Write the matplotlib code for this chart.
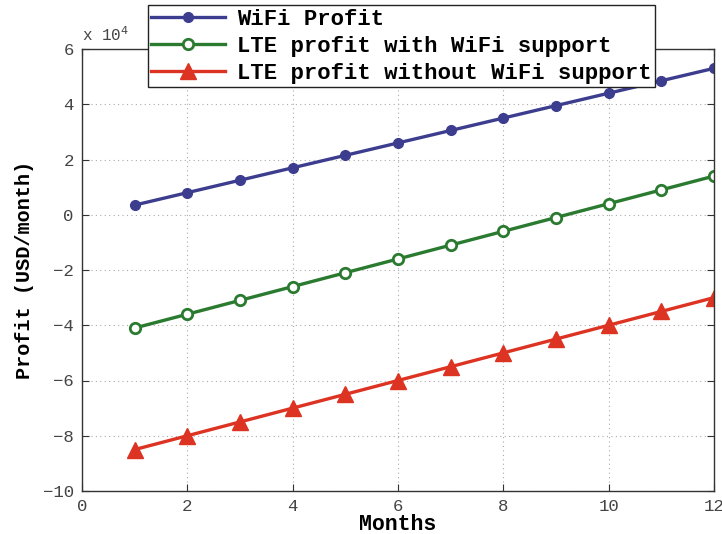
import numpy as np
import matplotlib.pyplot as plt

# Datos (USD/mes)
months = [1, 2, 3, 4, 5, 6, 7, 8, 9, 10, 11, 12]
wifi_profit = [3500, 8000, 12500, 17000, 21500, 26000, 30500, 35000, 39500, 44000, 48500, 53000]
lte_with_wifi = [-41000, -36000, -31000, -26000, -21000, -16000, -11000, -6000, -1000, 4000, 9000, 14000]
lte_without_wifi = [-85000, -80000, -75000, -70000, -65000, -60000, -55000, -50000, -45000, -40000, -35000, -30000]

labels = ["WiFi Profit", "LTE profit with WiFi support", "LTE profit without WiFi support"]
scale = 1e4

mono = "Liberation Mono"

fig = plt.figure(figsize=(7.22, 5.34), dpi=100)
ax = fig.add_axes([82 / 722, 1 - 491 / 534, (714 - 82) / 722, (491 - 49) / 534])

ax.plot(months, np.array(wifi_profit) / scale, color="#3d3d8f", lw=2.4,
        marker="o", ms=7, mfc="#3d3d8f", mec="#3d3d8f", label=labels[0])
ax.plot(months, np.array(lte_with_wifi) / scale, color="#2a7a30", lw=2.4,
        marker="o", ms=7.5, mfc="white", mec="#2a7a30", mew=2, label=labels[1])
ax.plot(months, np.array(lte_without_wifi) / scale, color="#dd3322", lw=2.4,
        marker="^", ms=11, mfc="#dd3322", mec="#dd3322", label=labels[2])

ax.set_xlim(0, 12)
ax.set_ylim(-10, 6)
ax.set_xticks(range(0, 13, 2))
ax.set_yticks(range(-10, 7, 2))
ax.grid(True, linestyle=(0, (1, 3)), color="#aaaaaa", lw=0.8)
ax.tick_params(direction="in", top=True, right=True, length=5, color="#333333",
               labelsize=12.5, labelcolor="#444444", pad=6)
for lab in ax.get_xticklabels() + ax.get_yticklabels():
    lab.set_family(mono)
for s in ax.spines.values():
    s.set_color("#333333")
    s.set_linewidth(1.0)

ax.set_xlabel("Months", family=mono, fontweight="bold", fontsize=15.5, labelpad=0)
ax.set_ylabel("Profit (USD/month)", family=mono, fontweight="bold", fontsize=14.5, labelpad=6)

# multiplicador tipo matlab
ax.text(0.0, 1.012, "x 10$^4$", transform=ax.transAxes, family=mono,
        fontsize=11.5, color="#444444", ha="left", va="bottom")

leg = fig.legend(loc="lower left", bbox_to_anchor=(148 / 722, 1 - 87 / 534),
                 prop={"family": mono, "weight": "bold", "size": 16},
                 handlelength=3.3, labelspacing=0.27, borderpad=0.15, borderaxespad=0,
                 handletextpad=0.55, fancybox=False, framealpha=1, edgecolor="#222222")
leg.get_frame().set_linewidth(1.0)

fig.savefig("out.png", dpi=100)
